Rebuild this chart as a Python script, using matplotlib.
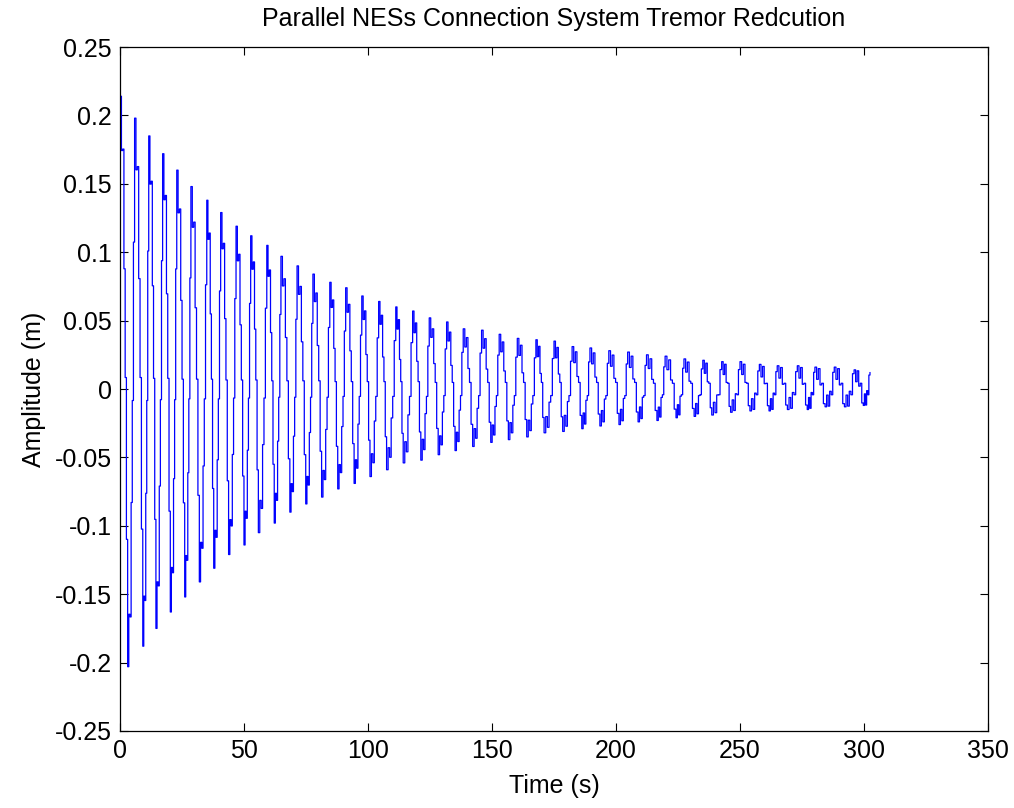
import matplotlib
matplotlib.use("Agg")
from matplotlib import pyplot as plt
from matplotlib.ticker import FuncFormatter, MultipleLocator

plt.rcParams['font.family'] = ['Liberation Sans', 'DejaVu Sans']

# crest of each oscillation cycle: time (s) and amplitude (m)
peak_t = [0.1, 5.9, 11.6, 17.2, 22.9, 28.6, 35.0, 40.6, 46.8, 52.7, 59.2, 64.9, 71.4,
          77.8, 84.6, 91.0, 97.5, 104.3, 111.2, 118.0, 124.7, 131.7, 138.4, 145.8,
          152.9, 160.2, 167.7, 175.0, 182.3, 189.5, 197.1, 204.7, 212.3, 219.8, 227.4,
          235.0, 242.6, 250.0, 257.8, 265.0, 273.1, 280.2, 288.0, 296.0, 302.4]
peak_v = [0.214, 0.198, 0.185, 0.172, 0.160, 0.148, 0.138, 0.129, 0.119, 0.112, 0.105,
          0.097, 0.090, 0.084, 0.078, 0.074, 0.068, 0.064, 0.060, 0.057, 0.052, 0.049,
          0.044, 0.043, 0.040, 0.037, 0.036, 0.035, 0.031, 0.030, 0.028, 0.027, 0.025,
          0.024, 0.022, 0.021, 0.020, 0.020, 0.018, 0.017, 0.017, 0.016, 0.016, 0.014,
          0.012]

# trough of each cycle
trough_t = [3.1, 9.2, 14.5, 20.3, 26.1, 32.0, 37.8, 43.8, 50.0, 55.8, 62.2, 68.5, 74.9,
            81.3, 87.8, 94.4, 100.8, 107.5, 114.2, 121.3, 128.3, 135.1, 142.2, 149.5,
            156.6, 164.0, 171.0, 178.5, 186.2, 193.5, 201.2, 208.9, 216.5, 224.2, 231.5,
            238.6, 246.2, 254.0, 261.7, 269.1, 277.1, 284.3, 292.1, 299.7]
trough_v = [-0.203, -0.188, -0.175, -0.163, -0.152, -0.141, -0.131, -0.121, -0.114,
            -0.105, -0.098, -0.090, -0.084, -0.079, -0.073, -0.069, -0.064, -0.059,
            -0.054, -0.052, -0.048, -0.045, -0.042, -0.039, -0.037, -0.035, -0.032,
            -0.031, -0.029, -0.027, -0.026, -0.024, -0.023, -0.021, -0.020, -0.019,
            -0.017, -0.016, -0.016, -0.015, -0.015, -0.013, -0.013, -0.012]

# size of the fast tremor ripple riding on each cycle (m)
ripple = [0.014, 0.014, 0.013, 0.013, 0.012, 0.012, 0.012, 0.011, 0.011, 0.011, 0.010,
          0.010, 0.010, 0.010, 0.009, 0.009, 0.009, 0.009, 0.009, 0.009, 0.008, 0.008,
          0.008, 0.008, 0.008, 0.008, 0.008, 0.008, 0.008, 0.008, 0.008, 0.008, 0.007,
          0.007, 0.007, 0.007, 0.007, 0.007, 0.007, 0.007, 0.007, 0.007, 0.007, 0.007]

start_value = 0.17

# sampled levels inside one half cycle (fraction of crest / trough) and ripple sign
fall_shape = [1.0, 0.88, 0.8, 0.45, 0.0, -0.5]
fall_jitter = [0.0, -1.0, 0.3, -0.6, 0.6, -0.6]
rise_shape = [-1.0, -0.88, -0.8, -0.45, 0.0, 0.5]
rise_jitter = [0.0, 1.0, -0.3, 0.6, -0.6, 0.6]

t, y = [0.0], [start_value]
n = len(fall_shape)
for i in range(len(trough_t)):
    P, T, r = peak_v[i], trough_v[i], ripple[i]
    tp, tt, tn = peak_t[i], trough_t[i], peak_t[i + 1]
    Pn = peak_v[i + 1]
    for k in range(n):
        b = fall_shape[k]
        t.append(tp + k / n * (tt - tp))
        y.append(b * (P if b > 0 else -T) + r * fall_jitter[k])
    for k in range(n):
        b = rise_shape[k]
        t.append(tt + k / n * (tn - tt))
        y.append(b * (Pn if b > 0 else -T) + r * rise_jitter[k])
t.append(peak_t[-1])
y.append(peak_v[-1])

fig = plt.figure(figsize=(10.14, 8.08), dpi=100)
ax = fig.add_axes([0.1183, 0.0953, 0.8561, 0.8465])
ax.plot(t, y, color='blue', linewidth=0.9, drawstyle='steps-post')

ax.set_xlim(0, 350)
ax.set_ylim(-0.25, 0.25)
ax.xaxis.set_major_locator(MultipleLocator(50))
ax.yaxis.set_major_locator(MultipleLocator(0.05))
ax.yaxis.set_major_formatter(FuncFormatter(lambda v, p: '%g' % round(v, 2)))
ax.tick_params(direction='in', length=6, width=0.8, top=True, right=True,
               labelsize=18, pad=6)
for s in ax.spines.values():
    s.set_linewidth(0.9)

ax.set_title('Parallel NESs Connection System Tremor Redcution', fontsize=18, pad=15)
ax.set_xlabel('Time (s)', fontsize=18, labelpad=8)
ax.set_ylabel('Amplitude (m)', fontsize=18, labelpad=6)

fig.savefig('out.png', dpi=100)
